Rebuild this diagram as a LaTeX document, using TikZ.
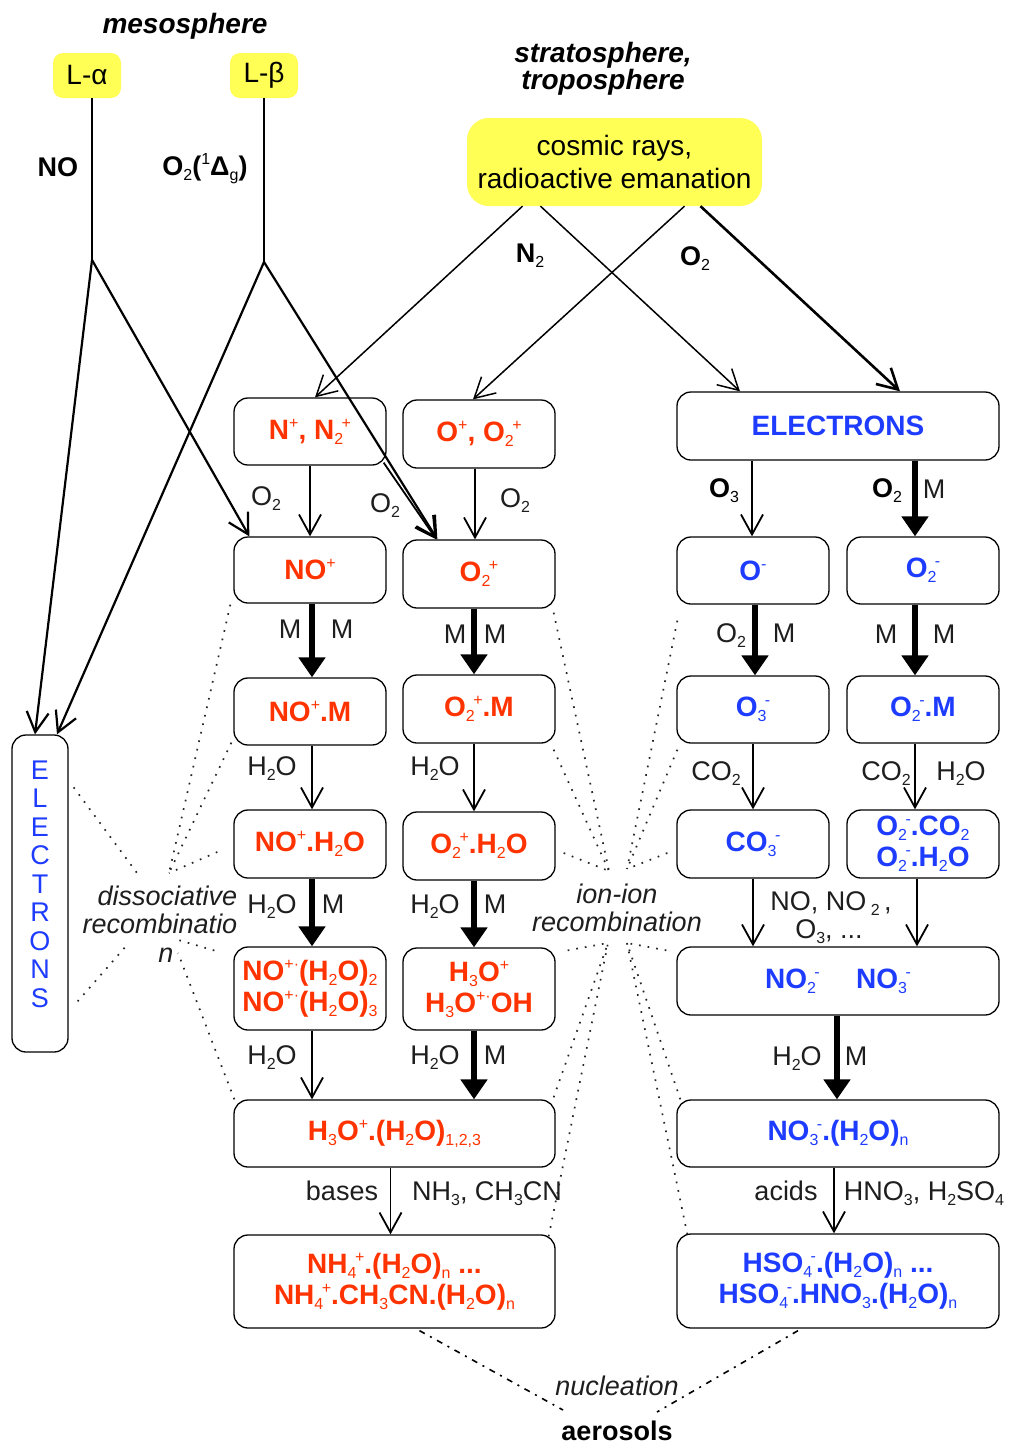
\documentclass[tikz,border=0pt]{standalone}
\usepackage{fontspec}
\setmainfont{Liberation Sans}
\usetikzlibrary{arrows.meta,calc}

\definecolor{ionred}{RGB}{255,51,0}
\definecolor{ionblue}{RGB}{30,60,255}
\definecolor{srcyellow}{RGB}{255,255,85}
\definecolor{labgray}{RGB}{30,30,30}

% small indices: subscript, superscript, and subscript followed by charge
\newcommand\dn[1]{\raisebox{-5pt}{\fontsize{16}{16}\selectfont\mdseries #1}}
\newcommand\up[1]{\raisebox{11pt}{\fontsize{16}{16}\selectfont\mdseries #1}}
\newcommand\ud[2]{\dn{#1}\kern-1.5pt\up{#2}}

\begin{document}
\begin{tikzpicture}[x=1pt,y=-1pt,
  ionbox/.style={draw, line width=1.3pt, rounded corners=14pt, minimum width=152pt,
    minimum height=68pt, align=center, inner sep=1pt, font=\fontsize{28}{31}\selectfont\bfseries},
  posion/.style={ionbox, text=ionred},
  negion/.style={ionbox, text=ionblue},
  srcbox/.style={fill=srcyellow, rounded corners=10pt, align=center, inner sep=1pt,
    font=\fontsize{28}{33}\selectfont},
  lab/.style={anchor=base, inner sep=0pt, text=labgray, font=\fontsize{27}{28}\selectfont},
  blab/.style={anchor=base, inner sep=0pt, text=black, font=\fontsize{27}{28}\selectfont\bfseries},
  ital/.style={anchor=base, inner sep=0pt, text=labgray, font=\fontsize{27}{28}\selectfont\itshape},
  head/.style={anchor=base, inner sep=0pt, text=black, font=\fontsize{28}{28}\selectfont\bfseries\itshape},
  tarr/.style={line width=1.8pt, -{Straight Barb[length=20pt,width=22pt]}},
  karr/.style={line width=6.5pt, -{Triangle[length=20pt,width=26pt]}},
  lline/.style={line width=2.2pt},
  cline/.style={line width=1.5pt},
  dotline/.style={line width=1.7pt, black!85, dash pattern=on 1.7pt off 7pt},
  nucline/.style={line width=1.6pt, dash pattern=on 6pt off 6pt on 2pt off 6pt},
]
\useasboundingbox (0,0) rectangle (1011,1446);

% ---------- sources ----------
\node[head] (meso) at (185,33) {mesosphere};
\node[head] (strat) at (603,62) {stratosphere,};
\node[head] (tropo) at (603,89) {troposphere};
\node[srcbox, minimum width=68pt, minimum height=45pt] (la) at (87,75.5) {L-α};
\node[srcbox, minimum width=68pt, minimum height=45pt] (lb) at (264,75.5) {L-β};
\node[srcbox, minimum width=295pt, minimum height=88pt, rounded corners=22pt] (cr) at (614.5,162)
  {cosmic rays,\\radioactive emanation};

% ---------- positive ions ----------
\node[posion, minimum height=67pt] (npn) at (310,431.5) {N\up{+}, N\ud{2}{+}};
\node[posion] (opo) at (479,434) {O\up{+}, O\ud{2}{+}};
\node[posion, minimum height=66pt] (nop) at (310,570) {NO\up{+}};
\node[posion] (o2p) at (479,574) {O\ud{2}{+}};
\node[posion, minimum height=67pt] (nopm) at (310,711.5) {NO\up{+}.M};
\node[posion] (o2pm) at (479,709) {O\ud{2}{+}.M};
\node[posion] (noph) at (310,844) {NO\up{+}.H\dn{2}O};
\node[posion] (o2ph) at (479,846) {O\ud{2}{+}.H\dn{2}O};
\node[posion, minimum height=83pt] (nophn) at (310,988.5)
  {NO\up{+·}(H\dn{2}O)\dn{2}\\NO\up{+·}(H\dn{2}O)\dn{3}};
\node[posion, minimum height=82pt] (h3o) at (479,989) {H\dn{3}O\up{+}\\H\dn{3}O\up{+·}OH};
\node[posion, minimum width=321pt, minimum height=67pt] (h3oh) at (394.5,1133.5)
  {H\dn{3}O\up{+}.(H\dn{2}O)\dn{1,2,3}};
\node[posion, minimum width=321pt, minimum height=93pt] (nh4) at (394.5,1281.5)
  {NH\ud{4}{+}.(H\dn{2}O)\dn{n} ...\\NH\ud{4}{+}.CH\dn{3}CN.(H\dn{2}O)\dn{n}};

% ---------- electrons and negative ions ----------
\node[negion, minimum width=322pt] (el) at (838,426) {ELECTRONS};
\node[negion, minimum height=67pt] (om) at (753,570.5) {O\up{-}};
\node[negion, minimum height=67pt] (o2m) at (923,570.5) {O\ud{2}{-}};
\node[negion, minimum height=67pt] (o3m) at (753,709.5) {O\ud{3}{-}};
\node[negion, minimum height=67pt] (o2mm) at (923,709.5) {O\ud{2}{-}.M};
\node[negion] (co3) at (753,844) {CO\ud{3}{-}};
\node[negion] (o2mc) at (923,844) {O\ud{2}{-}.CO\dn{2}\\O\ud{2}{-}.H\dn{2}O};
\node[negion, minimum width=322pt] (no23) at (838,981) {NO\ud{2}{-}\hspace{1.3em}NO\ud{3}{-}};
\node[negion, minimum width=322pt, minimum height=67pt] (no3h) at (838,1133.5)
  {NO\ud{3}{-}.(H\dn{2}O)\dn{n}};
\node[negion, minimum width=322pt, minimum height=94pt] (hso4) at (838,1281)
  {HSO\ud{4}{-}.(H\dn{2}O)\dn{n} ...\\HSO\ud{4}{-}.HNO\dn{3}.(H\dn{2}O)\dn{n}};

% vertical electrons column
\node[draw, line width=1.3pt, rounded corners=14pt, minimum width=56pt, minimum height=317pt]
  (elv) at (40,893.5) {};
\node[text=ionblue, align=center, inner sep=0pt, font=\fontsize{27}{28.5}\selectfont]
  (elvt) at (40,884) {E\\L\\E\\C\\T\\R\\O\\N\\S};

% ---------- photoionisation in the mesosphere ----------
\coordinate (ja) at (92,260);
\coordinate (jb) at (264,262);
\draw[lline] (ja |- la.south) -- (ja);
\draw[lline] (jb |- lb.south) -- (jb);
\draw[lline, -{Straight Barb[length=20pt,width=22pt]}] (ja) -- ([xshift=-5pt]elv.north);
\draw[lline, -{Straight Barb[length=20pt,width=22pt]}] (ja) -- ([xshift=16pt]nop.north west);
\draw[lline, -{Straight Barb[length=20pt,width=22pt]}] (jb) -- ([xshift=17pt]elv.north);
\draw[lline, -{Straight Barb[length=20pt,width=22pt]}] (jb) -- ([xshift=35pt]o2p.north west);
\node[blab] (lno) at (58,176) {NO};
\node[blab] (lo2d) at (205,175) {O\dn{2}(\up{1}Δ\dn{g})};

% ---------- ionisation by cosmic rays ----------
\draw[cline, -{Straight Barb[length=20pt,width=22pt]}] ([xshift=-92pt]cr.south) -- ([xshift=5pt]npn.north);
\draw[cline, -{Straight Barb[length=20pt,width=22pt]}] ([xshift=-74pt]cr.south) -- ([xshift=-98pt]el.north);
\draw[cline, -{Straight Barb[length=20pt,width=22pt]}] ([xshift=70pt]cr.south) -- ([xshift=-6pt]opo.north);
\draw[line width=2.6pt, -{Straight Barb[length=20pt,width=22pt]}] ([xshift=86pt]cr.south) -- ([xshift=62pt]el.north);
\node[blab] (ln2) at (530,262) {N\dn{2}};
\node[blab] (lo2c) at (695,265) {O\dn{2}};

% ---------- positive ion chain ----------
\draw[tarr] (npn.south) -- (nop.north);
\draw[tarr] ([xshift=-4pt]opo.south) -- ([xshift=-4pt]o2p.north);
\draw[tarr] ($(npn.south east)+(-3,-3)$) -- ([xshift=34pt]o2p.north west);
\node[lab] at (266,505) {O\dn{2}};
\node[lab] at (385,512) {O\dn{2}};
\node[lab] at (515,507) {O\dn{2}};

\draw[karr] ([xshift=2pt]nop.south) -- ([xshift=2pt]nopm.north);
\draw[karr] ([xshift=-5pt]o2p.south) -- ([xshift=-5pt]o2pm.north);
\node[lab] at (290,638) {M};
\node[lab] at (342,638) {M};
\node[lab] at (455,643) {M};
\node[lab] at (495,643) {M};

\draw[tarr] ([xshift=2pt]nopm.south) -- ([xshift=2pt]noph.north);
\draw[tarr] ([xshift=-5pt]o2pm.south) -- ([xshift=-5pt]o2ph.north);
\node[lab] at (272,775) {H\dn{2}O};
\node[lab] at (435,775) {H\dn{2}O};

\draw[karr] ([xshift=2pt]noph.south) -- ([xshift=2pt]nophn.north);
\draw[karr] ([xshift=-5pt]o2ph.south) -- ([xshift=-5pt]h3o.north);
\node[lab] at (272,913) {H\dn{2}O};
\node[lab] at (333,913) {M};
\node[lab] at (435,913) {H\dn{2}O};
\node[lab] at (495,913) {M};

\draw[tarr] ([xshift=2pt]nophn.south) -- ($(nophn.south |- h3oh.north)+(2,0)$);
\draw[karr] ([xshift=-5pt]h3o.south) -- ($(h3o.south |- h3oh.north)+(-5,0)$);
\node[lab] at (272,1064) {H\dn{2}O};
\node[lab] at (435,1064) {H\dn{2}O};
\node[lab] at (495,1064) {M};

\draw[tarr] ([xshift=-4pt]h3oh.south) -- ([xshift=-4pt]nh4.north);
\node[lab] at (342,1200) {bases};
\node[lab] at (487,1200) {NH\dn{3}, CH\dn{3}CN};

% ---------- negative ion chain ----------
\draw[tarr] ([xshift=-86pt]el.south) -- ([xshift=-1pt]om.north);
\draw[karr] ([xshift=77pt]el.south) -- ([xshift=-8pt]o2m.north);
\node[blab] at (724,497) {O\dn{3}};
\node[blab] at (887,497) {O\dn{2}};
\node[lab] at (934,498) {M};

\draw[karr] ([xshift=2pt]om.south) -- ([xshift=2pt]o3m.north);
\draw[karr] ([xshift=-8pt]o2m.south) -- ([xshift=-8pt]o2mm.north);
\node[lab] at (731,642) {O\dn{2}};
\node[lab] at (784,642) {M};
\node[lab] at (886,643) {M};
\node[lab] at (944,643) {M};

\draw[tarr] (o3m.south) -- (co3.north);
\draw[tarr] ([xshift=-8pt]o2mm.south) -- ([xshift=-8pt]o2mc.north);
\node[lab] at (716,780) {CO\dn{2}};
\node[lab] at (886,780) {CO\dn{2}};
\node[lab] at (961,780) {H\dn{2}O};

\draw[tarr] (co3.south) -- (co3.south |- no23.north);
\draw[tarr] ([xshift=-6pt]o2mc.south) -- ($(o2mc.south |- no23.north)+(-6,0)$);
\node[lab] at (831,910) {NO, NO\,\dn{2}\,,};
\node[lab] at (829,938) {O\dn{3}, ...};

\draw[karr] ([xshift=-1pt]no23.south) -- ([xshift=-1pt]no3h.north);
\node[lab] at (797,1065) {H\dn{2}O};
\node[lab] at (856,1065) {M};

\draw[tarr] ([xshift=-4pt]no3h.south) -- ([xshift=-4pt]hso4.north);
\node[lab] at (786,1200) {acids};
\node[lab] at (924,1200) {HNO\dn{3}, H\dn{2}SO\dn{4}};

% ---------- dissociative recombination ----------
\node[ital] (dr1) at (167.5,905) {dissociative};
\node[ital] (dr2) at (160,933) {recombinatio};
\node[ital] (dr3) at (166,962) {n};
\coordinate (drU) at (169,873);
\coordinate (drE) at (137,873);
\coordinate (drEL) at (127,945);
\coordinate (drL1) at (175,939);
\coordinate (drL2) at (178,953);
\draw[dotline] ($(nop.south west)+(-3,1)$) -- (drU);
\draw[dotline] ($(nopm.south west)+(-2,-3)$) -- (drU);
\draw[dotline] ($(noph.west)+(-16,8)$) -- (drU);
\draw[dotline] ($(elv.north east)+(5,53)$) -- (drE);
\draw[dotline] ($(elv.north east)+(9,267)$) -- (drEL);
\draw[dotline] ($(nophn.west)+(-19,-38)$) -- (drL1);
\draw[dotline] ($(h3oh.north west)+(1,0)$) -- (drL2);

% ---------- ion-ion recombination ----------
\node[ital] (ii1) at (617,903) {ion-ion};
\node[ital] (ii2) at (617,931) {recombination};
\coordinate (iiUL) at (609,871);
\coordinate (iiUR) at (627,869);
\coordinate (iiLL) at (608,943);
\coordinate (iiLR) at (627,943);
\draw[dotline] ($(o2p.south east)+(-2,4)$) -- (iiUL);
\draw[dotline] ($(o2pm.south east)+(-2,6)$) -- (iiUL);
\draw[dotline] ($(o2ph.east)+(8,7)$) -- (iiUL);
\draw[dotline] ($(om.south west)+(1,16)$) -- (iiUR);
\draw[dotline] ($(o3m.south west)+(1,6)$) -- (iiUR);
\draw[dotline] ($(co3.west)+(-9,9)$) -- (iiUR);
\draw[dotline] ($(h3o.north east)+(12,3)$) -- (iiLL);
\draw[dotline] ($(h3oh.north east)+(-2,-2)$) -- (iiLL);
\draw[dotline] ($(nh4.north east)+(-7,2)$) -- (iiLL);
\draw[dotline] ($(no23.north west)+(-10,4)$) -- (iiLR);
\draw[dotline] ($(no3h.north west)+(4,0)$) -- (iiLR);
\draw[dotline] ($(hso4.north west)+(11,1)$) -- (iiLR);

% ---------- nucleation ----------
\node[ital] (nuc) at (617,1395) {nucleation};
\node[blab] (aer) at (617,1440) {aerosols};
\coordinate (nucL) at (563,1410);
\coordinate (nucR) at (657,1412);
\draw[nucline] ($(nh4.south)+(25,2)$) -- (nucL);
\draw[nucline] ($(hso4.south)+(-40,2)$) -- (nucR);
\end{tikzpicture}
\end{document}
